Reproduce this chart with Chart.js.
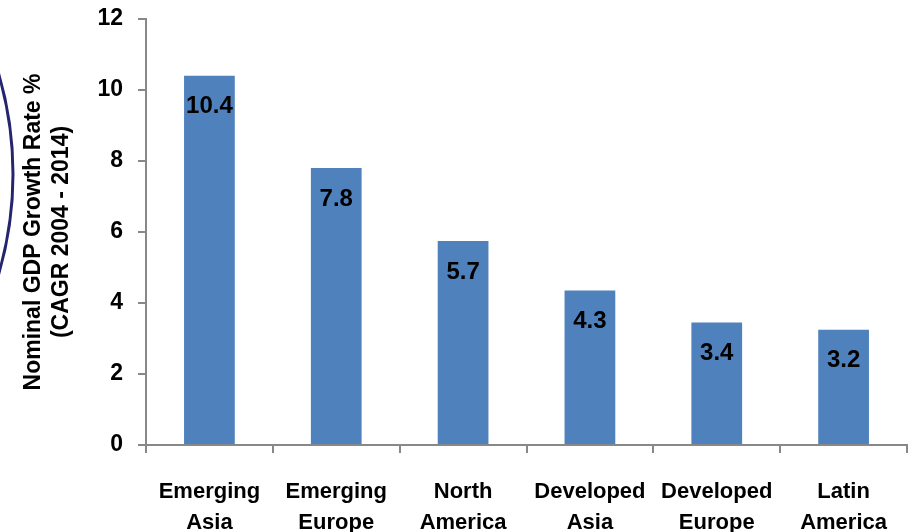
<!DOCTYPE html>
<html>
<head>
<meta charset="utf-8">
<script src="https://cdn.jsdelivr.net/npm/chart.js@4.4.1/dist/chart.umd.min.js"></script>
<style>
  html, body { margin: 0; padding: 0; background: #fff; overflow: hidden; }
  #wrap { width: 913px; height: 532px; overflow: hidden; }
</style>
</head>
<body>
<div id="wrap"><canvas id="chart" width="913" height="545"></canvas></div>
<script>
// data
const regions = [
  ["Emerging", "Asia"],
  ["Emerging", "Europe"],
  ["North", "America"],
  ["Developed", "Asia"],
  ["Developed", "Europe"],
  ["Latin", "America"],
];
const growth = [10.4, 7.8, 5.75, 4.35, 3.45, 3.25];
const growthLabels = ["10.4", "7.8", "5.7", "4.3", "3.4", "3.2"];
const yTicks = [0, 2, 4, 6, 8, 10, 12];
const yTitle = ["Nominal GDP Growth Rate %", "(CAGR 2004 - 2014)"];

const FONT = "'Liberation Sans', Arial, sans-serif";

// decorative navy arc on the left edge
const arcPlugin = {
  id: "arc",
  beforeDraw(chart) {
    const ctx = chart.ctx;
    ctx.save();
    ctx.strokeStyle = "#25256f";
    ctx.lineWidth = 3;
    ctx.beginPath();
    ctx.arc(-344, 174, 357, -0.3, 0.3);
    ctx.stroke();
    ctx.restore();
  },
};

// value labels just inside the top of each bar
const valueLabels = {
  id: "valueLabels",
  afterDatasetsDraw(chart) {
    const ctx = chart.ctx;
    const meta = chart.getDatasetMeta(0);
    ctx.save();
    ctx.font = "bold 24px " + FONT;
    ctx.fillStyle = "#000";
    ctx.textAlign = "center";
    ctx.textBaseline = "middle";
    meta.data.forEach((bar, i) => {
      ctx.fillText(growthLabels[i], bar.x, bar.y + 31);
    });
    ctx.restore();
  },
};

new Chart(document.getElementById("chart"), {
  type: "bar",
  data: {
    labels: regions,
    datasets: [
      {
        data: growth,
        backgroundColor: "#4f81bd",
        borderWidth: 0,
        barPercentage: 0.4,
        categoryPercentage: 1,
      },
    ],
  },
  options: {
    responsive: false,
    animation: false,
    layout: { padding: { top: 19, right: 6, left: 0, bottom: 0 } },
    plugins: {
      legend: { display: false },
      tooltip: { enabled: false },
    },
    scales: {
      x: {
        grid: {
          display: true,
          drawOnChartArea: false,
          drawTicks: true,
          tickLength: 8,
          color: "#888888",
          lineWidth: 2,
          offset: true,
        },
        border: { color: "#888888", width: 2 },
        ticks: {
          color: "#000",
          padding: 24,
          maxRotation: 0,
          autoSkip: false,
          font: { family: FONT, size: 22, weight: "bold", lineHeight: 1.4 },
        },
        afterFit(scale) {
          scale.height = 100;
          scale.paddingLeft = 0;
          scale.paddingRight = 0;
        },
      },
      y: {
        min: 0,
        max: 12,
        afterBuildTicks(scale) {
          scale.ticks = yTicks.map((v) => ({ value: v }));
        },
        grid: {
          display: true,
          drawOnChartArea: false,
          drawTicks: true,
          tickLength: 8,
          color: "#888888",
          lineWidth: 2,
        },
        border: { color: "#888888", width: 2 },
        ticks: {
          color: "#000",
          padding: 15,
          font: { family: FONT, size: 23, weight: "bold" },
        },
        title: {
          display: true,
          text: yTitle,
          color: "#000",
          padding: { top: 20, bottom: 0 },
          font: { family: FONT, size: 23, weight: "bold", lineHeight: 1.2 },
        },
        afterFit(scale) {
          scale.width = 146;
          scale.paddingTop = 0;
          scale.paddingBottom = 0;
        },
      },
    },
  },
  plugins: [arcPlugin, valueLabels],
});
</script>
</body>
</html>
